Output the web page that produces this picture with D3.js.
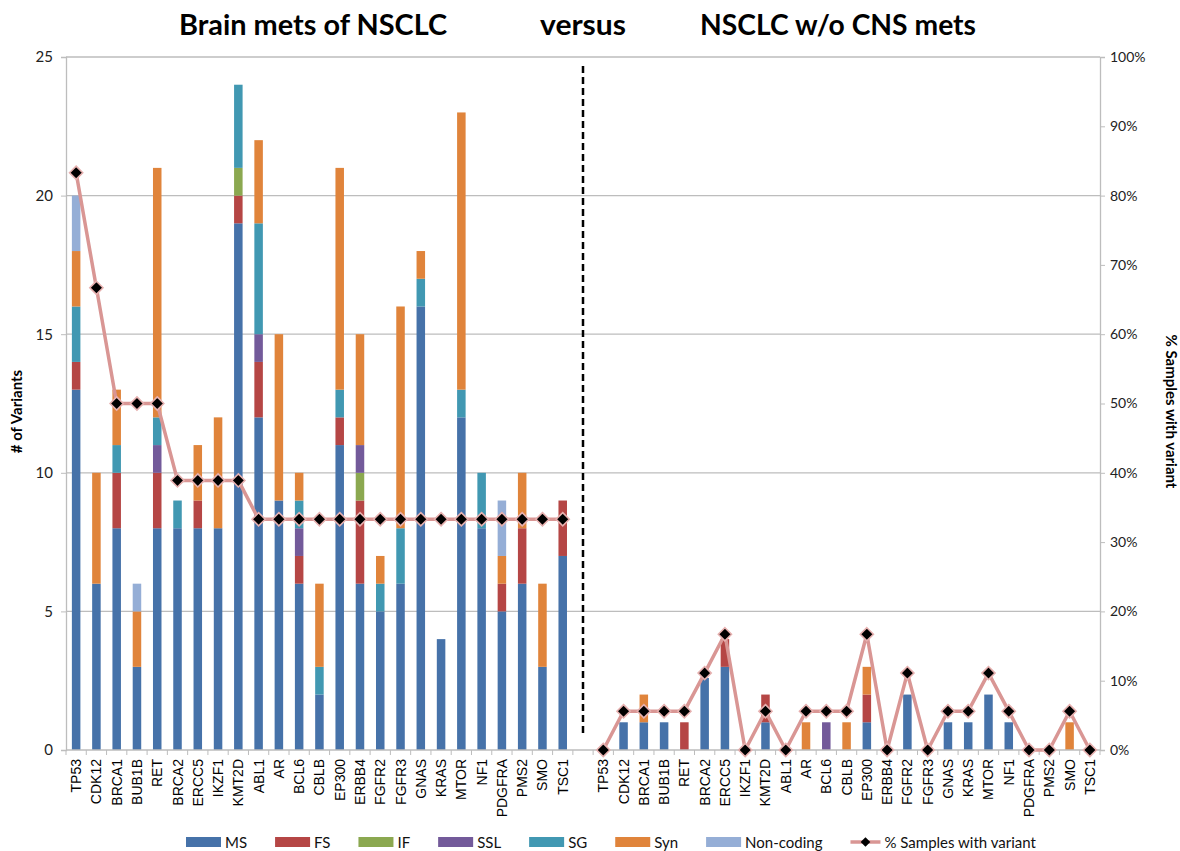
<!DOCTYPE html>
<html>
<head>
<meta charset="utf-8">
<script src="https://cdn.jsdelivr.net/npm/d3@7"></script>
<style>
  body { margin: 0; background: #fff; }
  svg { display: block; font-family: Lato, "Open Sans", sans-serif; }
</style>
</head>
<body>
<svg id="chart" width="1180" height="851"></svg>
<script>
// genes, same order in both panels
var genes = ["TP53", "CDK12", "BRCA1", "BUB1B", "RET", "BRCA2", "ERCC5", "IKZF1", "KMT2D", "ABL1",
  "AR", "BCL6", "CBLB", "EP300", "ERBB4", "FGFR2", "FGFR3", "GNAS", "KRAS", "MTOR", "NF1",
  "PDGFRA", "PMS2", "SMO", "TSC1"];

var variantTypes = ["MS", "FS", "IF", "SSL", "SG", "Syn", "Non-coding"];
var typeColors = ["#4672a9", "#b54645", "#8ba850", "#735a9a", "#4198b2", "#e0843b", "#95aed6"];

// brain mets of NSCLC, # of variants by type
var msBrain  = [13, 6, 8, 3, 8, 8, 8, 8, 19, 12, 9, 6, 2, 11, 6, 5, 6, 16, 4, 12, 8, 5, 6, 3, 7];
var fsBrain  = [1, 0, 2, 0, 2, 0, 1, 0, 1, 2, 0, 1, 0, 1, 3, 0, 0, 0, 0, 0, 0, 1, 2, 0, 2];
var ifBrain  = [0, 0, 0, 0, 0, 0, 0, 0, 1, 0, 0, 0, 0, 0, 1, 0, 0, 0, 0, 0, 0, 0, 0, 0, 0];
var sslBrain = [0, 0, 0, 0, 1, 0, 0, 0, 0, 1, 0, 1, 0, 0, 1, 0, 0, 0, 0, 0, 0, 0, 0, 0, 0];
var sgBrain  = [2, 0, 1, 0, 1, 1, 0, 0, 3, 4, 0, 1, 1, 1, 0, 1, 2, 1, 0, 1, 2, 0, 0, 0, 0];
var synBrain = [2, 4, 2, 2, 9, 0, 2, 4, 0, 3, 6, 1, 3, 8, 4, 1, 8, 1, 0, 10, 0, 1, 2, 3, 0];
var ncBrain  = [2, 0, 0, 1, 0, 0, 0, 0, 0, 0, 0, 0, 0, 0, 0, 0, 0, 0, 0, 0, 0, 2, 0, 0, 0];
var pctBrain = [83.3, 66.7, 50, 50, 50, 38.9, 38.9, 38.9, 38.9, 33.3, 33.3, 33.3, 33.3, 33.3, 33.3,
  33.3, 33.3, 33.3, 33.3, 33.3, 33.3, 33.3, 33.3, 33.3, 33.3];

// NSCLC without CNS mets
var msNoCns  = [0, 1, 1, 1, 0, 2.6, 3, 0, 1, 0, 0, 0, 0, 1, 0, 2, 0, 1, 1, 2, 1, 0, 0, 0, 0];
var fsNoCns  = [0, 0, 0, 0, 1, 0, 1, 0, 1, 0, 0, 0, 0, 1, 0, 0, 0, 0, 0, 0, 0, 0, 0, 0, 0];
var ifNoCns  = [0, 0, 0, 0, 0, 0, 0, 0, 0, 0, 0, 0, 0, 0, 0, 0, 0, 0, 0, 0, 0, 0, 0, 0, 0];
var sslNoCns = [0, 0, 0, 0, 0, 0, 0, 0, 0, 0, 0, 1, 0, 0, 0, 0, 0, 0, 0, 0, 0, 0, 0, 0, 0];
var sgNoCns  = [0, 0, 0, 0, 0, 0, 0, 0, 0, 0, 0, 0, 0, 0, 0, 0, 0, 0, 0, 0, 0, 0, 0, 0, 0];
var synNoCns = [0, 0, 1, 0, 0, 0, 0, 0, 0, 0, 1, 0, 1, 1, 0, 0, 0, 0, 0, 0, 0, 0, 0, 1, 0];
var ncNoCns  = [0, 0, 0, 0, 0, 0, 0, 0, 0, 0, 0, 0, 0, 0, 0, 0, 0, 0, 0, 0, 0, 0, 0, 0, 0];
var pctNoCns = [0, 5.6, 5.6, 5.6, 5.6, 11.1, 16.7, 0, 5.6, 0, 5.6, 5.6, 5.6, 16.7, 0, 11.1, 0,
  5.6, 5.6, 11.1, 5.6, 0, 0, 5.6, 0];

var leftTicks = [0, 5, 10, 15, 20, 25];
var rightTicks = [0, 10, 20, 30, 40, 50, 60, 70, 80, 90, 100];

var margin = {top: 57, right: 80, bottom: 101, left: 66};
var svg = d3.select("#chart");
var W = +svg.attr("width"), H = +svg.attr("height");
var plotW = W - margin.left - margin.right, plotH = H - margin.top - margin.bottom;

function buildRows(prefix, series, pct) {
  return genes.map(function(g, i) {
    var row = {key: prefix + g, gene: g, pct: pct[i]};
    variantTypes.forEach(function(t, j) { row[t] = series[j][i]; });
    return row;
  });
}
var brainRows = buildRows("B_", [msBrain, fsBrain, ifBrain, sslBrain, sgBrain, synBrain, ncBrain], pctBrain);
var noCnsRows = buildRows("N_", [msNoCns, fsNoCns, ifNoCns, sslNoCns, sgNoCns, synNoCns, ncNoCns], pctNoCns);
var rows = brainRows.concat(noCnsRows);
// one empty slot between the panels
var keys = brainRows.map(function(d) { return d.key; }).concat(["gap"], noCnsRows.map(function(d) { return d.key; }));

var x = d3.scaleBand().domain(keys).range([0, plotW]).paddingInner(0.58).paddingOuter(0.29);
var y = d3.scaleLinear().domain([0, 25]).range([plotH, 0]);
var y2 = d3.scaleLinear().domain([0, 100]).range([plotH, 0]);

var g = svg.append("g").attr("transform", "translate(" + margin.left + "," + margin.top + ")");

// gridlines
g.append("g").selectAll("line").data(leftTicks.slice(1)).join("line")
    .attr("x1", 0).attr("x2", plotW)
    .attr("y1", function(d) { return y(d); }).attr("y2", function(d) { return y(d); })
    .attr("stroke", "#bdbdbd").attr("stroke-width", 1.3);

// stacked bars
var stack = d3.stack().keys(variantTypes);
var layers = stack(rows);
g.append("g").selectAll("g").data(layers).join("g")
    .attr("fill", function(d, i) { return typeColors[i]; })
  .selectAll("rect").data(function(d) { return d.filter(function(s) { return s[1] > s[0]; }); }).join("rect")
    .attr("x", function(d) { return x(d.data.key); })
    .attr("width", x.bandwidth())
    .attr("y", function(d) { return y(d[1]); })
    .attr("height", function(d) { return y(d[0]) - y(d[1]); });

// left axis
var yAxis = g.append("g")
    .call(d3.axisLeft(y).tickValues(leftTicks).tickSize(5).tickPadding(8));
yAxis.select(".domain").attr("stroke", "#bdbdbd").attr("stroke-width", 1.3);
yAxis.selectAll(".tick line").attr("stroke", "#bdbdbd");
yAxis.selectAll("text").attr("font-size", 15).attr("fill", "#222").attr("font-family", "Lato");

// right axis
var y2Axis = g.append("g").attr("transform", "translate(" + plotW + ",0)")
    .call(d3.axisRight(y2).tickValues(rightTicks).tickSize(5).tickPadding(5)
        .tickFormat(function(d) { return d + "%"; }));
y2Axis.select(".domain").attr("stroke", "#bdbdbd").attr("stroke-width", 1.3);
y2Axis.selectAll(".tick line").attr("stroke", "#bdbdbd");
y2Axis.selectAll("text").attr("font-size", 14).attr("fill", "#222").attr("font-family", "Lato");

// bottom axis: ticks between categories
var step = x.step();
var x0 = x(keys[0]) - (step - x.bandwidth()) / 2;
var xAxisG = g.append("g").attr("transform", "translate(0," + plotH + ")");
xAxisG.append("line").attr("x1", 0).attr("x2", plotW).attr("stroke", "#bdbdbd").attr("stroke-width", 1.3);
xAxisG.selectAll(".sep").data(d3.range(keys.length + 1)).join("line")
    .attr("class", "sep")
    .attr("x1", function(i) { return x0 + i * step; })
    .attr("x2", function(i) { return x0 + i * step; })
    .attr("y1", 0).attr("y2", 5)
    .attr("stroke", "#bdbdbd");
xAxisG.selectAll(".lbl").data(rows).join("text")
    .attr("class", "lbl")
    .attr("transform", function(d) {
      return "translate(" + (x(d.key) + x.bandwidth() / 2 + 5) + ",9) rotate(-90)";
    })
    .attr("text-anchor", "end")
    .attr("font-family", "Liberation Sans, Arial, sans-serif")
    .attr("font-size", 14)
    .attr("fill", "#000")
    .text(function(d) { return d.gene; });

// divider between the two panels
g.append("line")
    .attr("x1", x("gap") + x.bandwidth() / 2).attr("x2", x("gap") + x.bandwidth() / 2)
    .attr("y1", 9).attr("y2", plotH - 15)
    .attr("stroke", "#000").attr("stroke-width", 2.5).attr("stroke-dasharray", "7,4");

// % samples line, one per panel
var line = d3.line()
    .x(function(d) { return x(d.key) + x.bandwidth() / 2; })
    .y(function(d) { return y2(d.pct); });
[brainRows, noCnsRows].forEach(function(part) {
  g.append("path").datum(part)
      .attr("d", line)
      .attr("fill", "none")
      .attr("stroke", "#d99694")
      .attr("stroke-width", 3.5)
      .attr("stroke-linejoin", "round");
});
var diamond = d3.symbol().type(d3.symbolDiamond2).size(110);
g.append("g").selectAll("path").data(rows).join("path")
    .attr("transform", function(d) {
      return "translate(" + (x(d.key) + x.bandwidth() / 2) + "," + y2(d.pct) + ")";
    })
    .attr("d", diamond)
    .attr("fill", "#000")
    .attr("stroke", "#e6b0af")
    .attr("stroke-width", 1.6);

// titles
var titles = [
  {text: "Brain mets of NSCLC", cx: 313, len: 268},
  {text: "versus", cx: 583, len: 86},
  {text: "NSCLC w/o CNS mets", cx: 838, len: 276}
];
svg.selectAll(".title").data(titles).join("text")
    .attr("class", "title")
    .attr("x", function(d) { return d.cx; })
    .attr("y", 35)
    .attr("text-anchor", "middle")
    .attr("font-size", 28)
    .attr("font-weight", "bold")
    .attr("textLength", function(d) { return d.len; })
    .attr("lengthAdjust", "spacingAndGlyphs")
    .text(function(d) { return d.text; });

// axis titles
svg.append("text")
    .attr("transform", "translate(22," + (margin.top + plotH / 2 + 8) + ") rotate(-90)")
    .attr("text-anchor", "middle")
    .attr("font-size", 15).attr("font-weight", "bold")
    .text("# of Variants");
svg.append("text")
    .attr("transform", "translate(1166," + (margin.top + plotH / 2 + 8) + ") rotate(90)")
    .attr("text-anchor", "middle")
    .attr("font-size", 15).attr("font-weight", "bold")
    .text("% Samples with variant");

// legend
var legend = svg.append("g").attr("transform", "translate(186,842)");
var lx = 0;
variantTypes.concat(["% Samples with variant"]).forEach(function(name, i) {
  var item = legend.append("g").attr("transform", "translate(" + lx + ",0)");
  if (i < variantTypes.length) {
    item.append("rect").attr("x", 0).attr("y", -5).attr("width", 35).attr("height", 10)
        .attr("fill", typeColors[i]);
  } else {
    item.append("line").attr("x1", 0).attr("x2", 30).attr("y1", 0).attr("y2", 0)
        .attr("stroke", "#d99694").attr("stroke-width", 3.5);
    item.append("path").attr("transform", "translate(15,0)")
        .attr("d", d3.symbol().type(d3.symbolDiamond2).size(60))
        .attr("fill", "#000");
  }
  var tx = i < variantTypes.length ? 39 : 34;
  var t = item.append("text").attr("x", tx).attr("y", 5.5)
      .attr("font-size", 15).attr("fill", "#111").text(name);
  lx += tx + t.node().getComputedTextLength() + 28;
});
</script>
</body>
</html>
